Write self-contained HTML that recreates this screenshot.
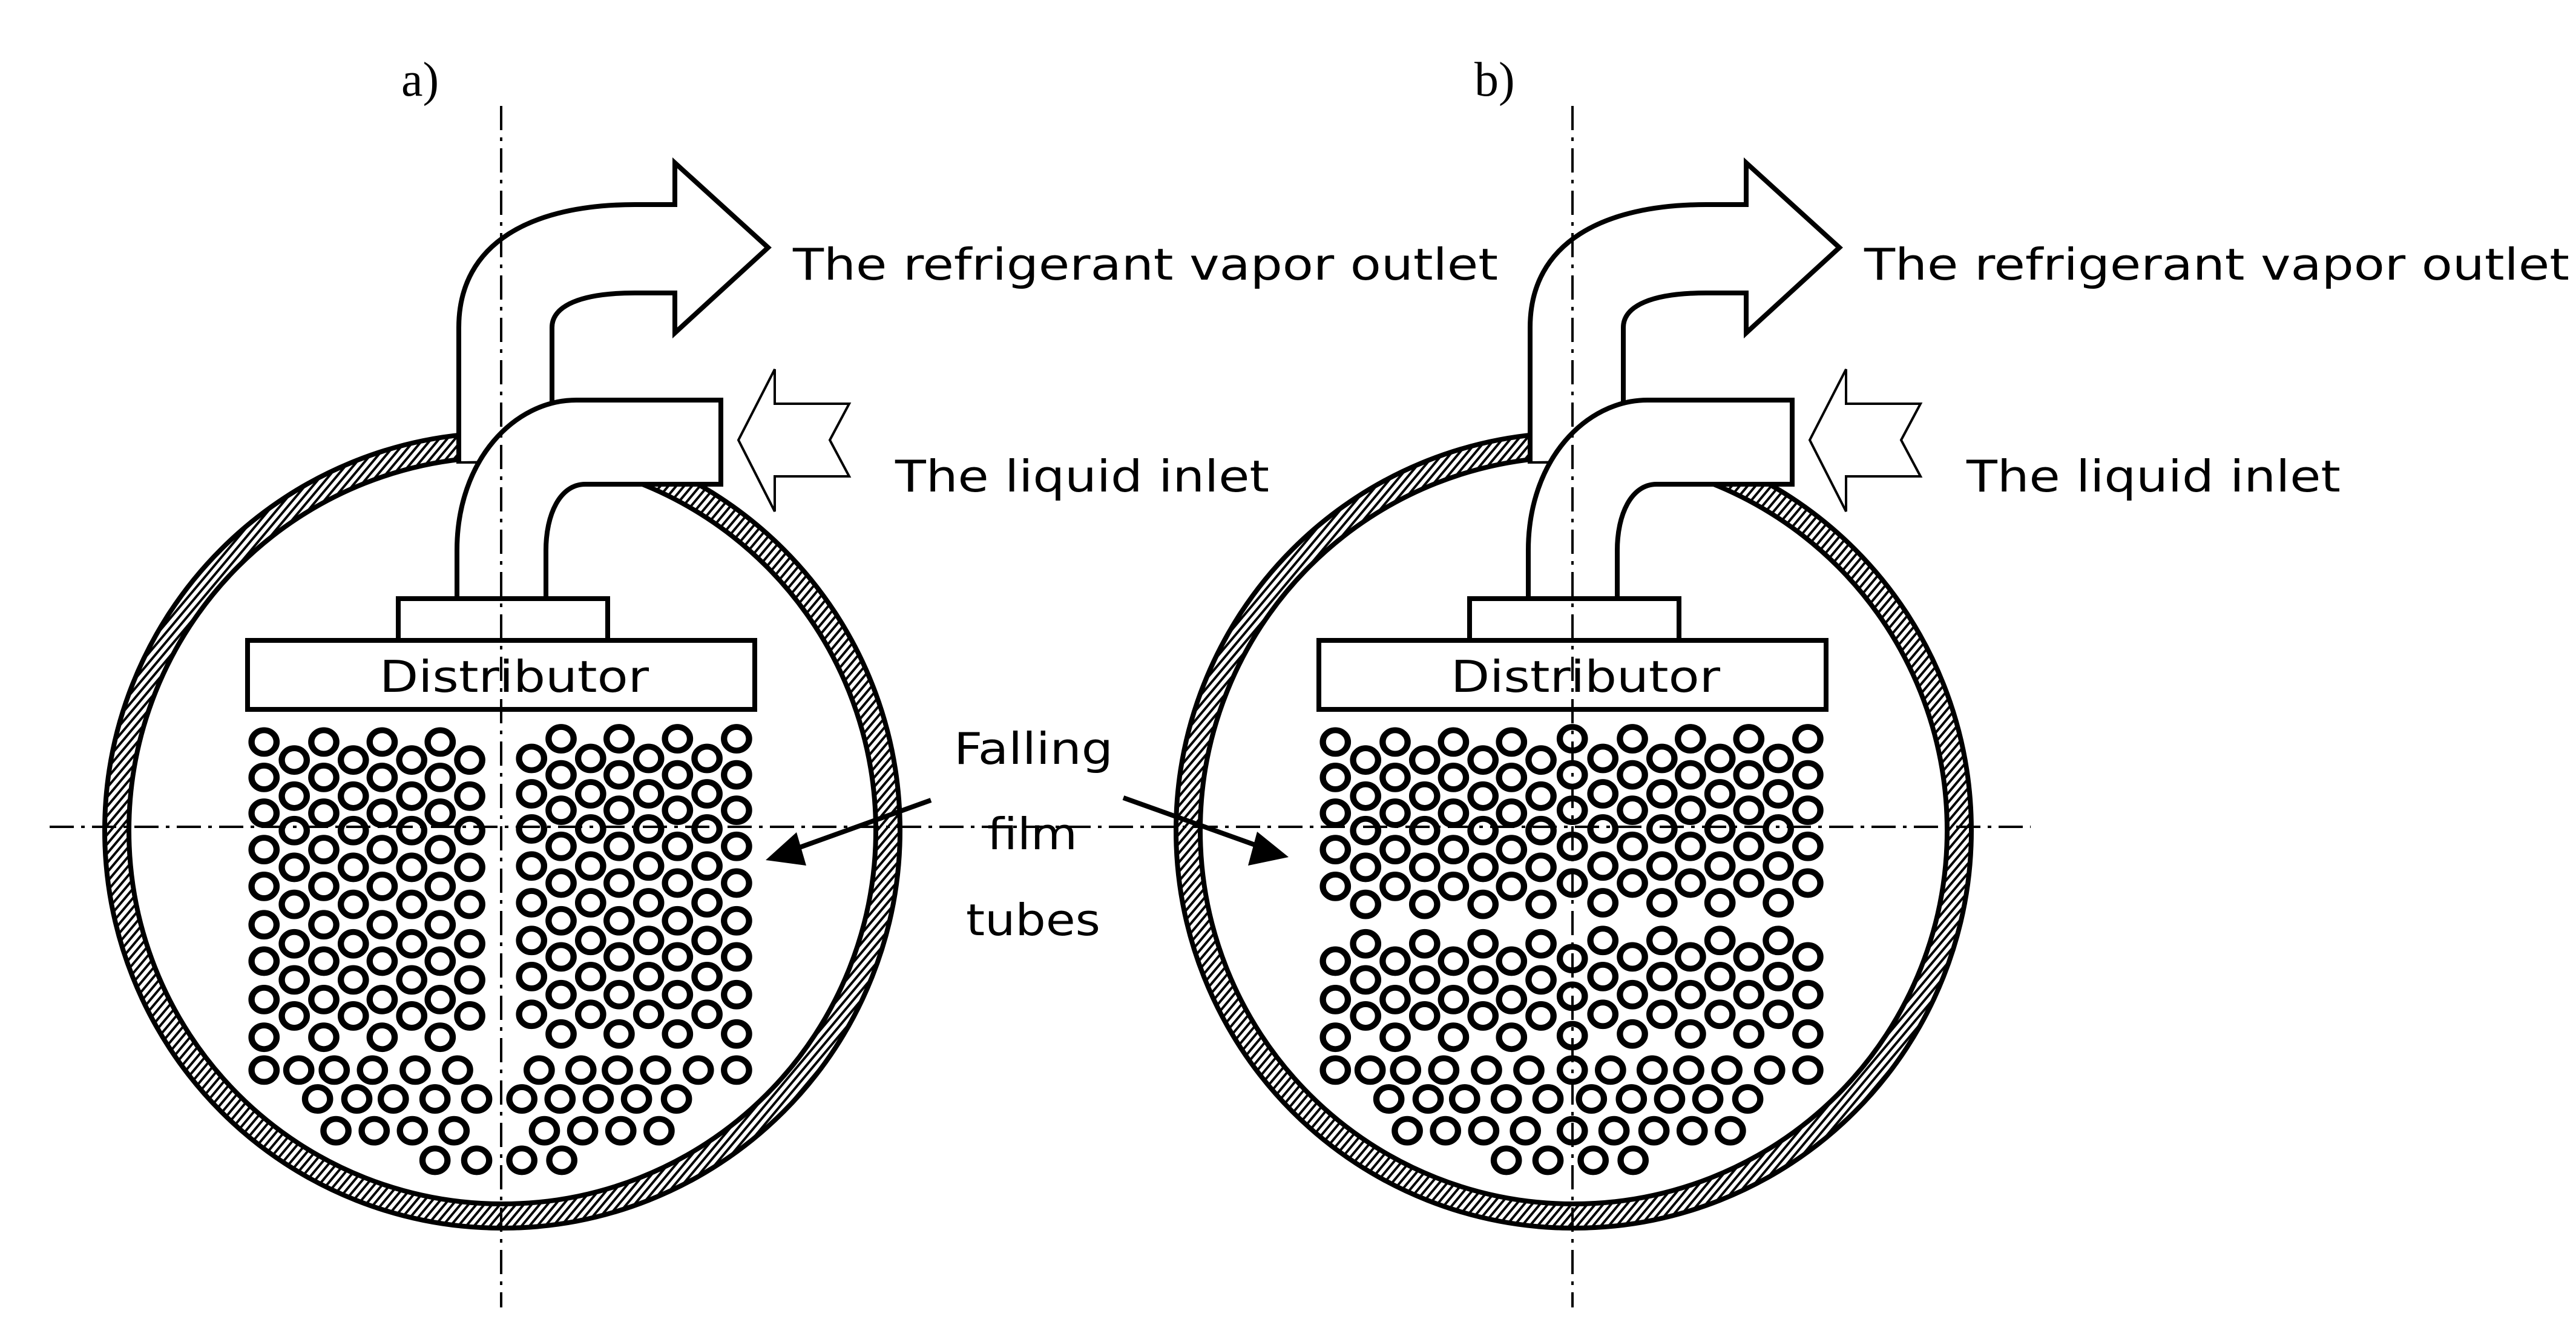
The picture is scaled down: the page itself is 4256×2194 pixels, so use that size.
<!DOCTYPE html>
<html><head><meta charset="utf-8"><style>
html,body{margin:0;padding:0;background:#fff;}
svg{display:block;}
.t{font-family:"DejaVu Sans","Liberation Sans",sans-serif;font-size:72px;fill:#000;}
.s{font-family:"Liberation Serif",serif;font-size:80px;fill:#000;}
</style></head><body>
<svg width="4256" height="2194" viewBox="0 0 4256 2194" xmlns="http://www.w3.org/2000/svg" xmlns:xlink="http://www.w3.org/1999/xlink">
<defs>
<pattern id="h" width="10" height="10" patternUnits="userSpaceOnUse" patternTransform="rotate(40)">
<rect width="10" height="10" fill="#fff"/><rect x="0" y="0" width="4" height="10" fill="#000"/></pattern>
<g id="diag">
 <circle cx="830" cy="1372" r="637" fill="#fff" stroke="url(#h)" stroke-width="40"/>
 <circle cx="830" cy="1372" r="657" fill="none" stroke="#000" stroke-width="8"/>
 <circle cx="830" cy="1372" r="617" fill="none" stroke="#000" stroke-width="8"/>
 <rect x="762" y="690" width="240" height="80" fill="#fff"/>
 <line x1="754" y1="762" x2="800" y2="762" stroke="#000" stroke-width="8"/>
 <path d="M758,762 L758,541 C758,400 880,338 1049,338 L1115,338 L1115,269 L1269,409 L1115,550 L1115,484 L1049,484 C960,484 912,505 912,541 L912,760 Z" fill="#fff"/>
 <path d="M758,762 L758,541 C758,400 880,338 1049,338 L1115,338 L1115,269 L1269,409 L1115,550 L1115,484 L1049,484 C960,484 912,505 912,541 L912,668" fill="none" stroke="#000" stroke-width="8" stroke-linejoin="miter"/>
 <path d="M755,989 L755,909 C755,760 850,661 952,661 L1191,661 L1191,800 L967,800 C925,800 902,850 902,909 L902,989 Z" fill="#fff" stroke="#000" stroke-width="8"/>
 <rect x="658" y="989" width="346" height="69" fill="#fff" stroke="#000" stroke-width="8"/>
 <rect x="409" y="1058" width="838" height="114" fill="#fff" stroke="#000" stroke-width="8"/>
 <polygon points="1220,727 1280,610 1280,667 1403,667 1371,727 1403,787 1280,787 1280,845" fill="#fff" stroke="#000" stroke-width="4"/>
 <text class="t" x="1310" y="462" textLength="1165" lengthAdjust="spacingAndGlyphs">The refrigerant vapor outlet</text>
 <text class="t" x="1479" y="812" textLength="618" lengthAdjust="spacingAndGlyphs">The liquid inlet</text>
 <text class="t" x="627" y="1143" textLength="445" lengthAdjust="spacingAndGlyphs">Distributor</text>
 <line x1="828" y1="175" x2="828" y2="2160" stroke="#000" stroke-width="4" stroke-dasharray="40 12 6 12"/>
</g>
</defs>
<use xlink:href="#diag" href="#diag"/>
<use xlink:href="#diag" href="#diag" x="1770"/>
<line x1="82" y1="1366" x2="3355" y2="1366" stroke="#000" stroke-width="4" stroke-dasharray="40 12 6 12"/>
<text class="s" x="663" y="158">a)</text>
<text class="s" x="2436" y="158">b)</text>
<text class="t" x="1576" y="1262" textLength="263" lengthAdjust="spacingAndGlyphs">Falling</text>
<text class="t" x="1631" y="1403" textLength="149" lengthAdjust="spacingAndGlyphs">film</text>
<text class="t" x="1596" y="1545" textLength="222" lengthAdjust="spacingAndGlyphs">tubes</text>
<line x1="1538" y1="1322" x2="1310" y2="1404" stroke="#000" stroke-width="8"/>
<polygon points="1265,1421 1316,1375 1332,1430" fill="#000"/>
<line x1="1856" y1="1318" x2="2085" y2="1400" stroke="#000" stroke-width="8"/>
<polygon points="2129,1416 2077,1374 2062,1430" fill="#000"/>

<g transform="translate(380,1150) scale(0.574,0.542)" fill="none" stroke="#000" stroke-width="18">
<g id="colsA">
<circle cx="98" cy="140" r="36"/><circle cx="98" cy="248" r="36"/><circle cx="98" cy="357" r="36"/><circle cx="98" cy="468" r="36"/><circle cx="98" cy="580" r="36"/><circle cx="98" cy="697" r="36"/><circle cx="98" cy="808" r="36"/><circle cx="98" cy="925" r="36"/><circle cx="98" cy="1040" r="36"/>
</g>
<use href="#colsA" xlink:href="#colsA" x="172"/><use href="#colsA" xlink:href="#colsA" x="340"/><use href="#colsA" xlink:href="#colsA" x="507"/>
<g id="colsB">
<circle cx="185" cy="195" r="36"/><circle cx="185" cy="305" r="36"/><circle cx="185" cy="410" r="36"/><circle cx="185" cy="522" r="36"/><circle cx="185" cy="635" r="36"/><circle cx="185" cy="755" r="36"/><circle cx="185" cy="865" r="36"/><circle cx="185" cy="975" r="36"/>
</g>
<use href="#colsB" xlink:href="#colsB" x="170"/><use href="#colsB" xlink:href="#colsB" x="338"/><use href="#colsB" xlink:href="#colsB" x="505"/>
<g id="colsA2">
<circle cx="953" cy="130" r="36"/><circle cx="953" cy="240" r="36"/><circle cx="953" cy="348" r="36"/><circle cx="953" cy="458" r="36"/><circle cx="953" cy="570" r="36"/><circle cx="953" cy="685" r="36"/><circle cx="953" cy="795" r="36"/><circle cx="953" cy="910" r="36"/><circle cx="953" cy="1030" r="36"/>
</g>
<use href="#colsA2" xlink:href="#colsA2" x="167"/><use href="#colsA2" xlink:href="#colsA2" x="335"/><use href="#colsA2" xlink:href="#colsA2" x="505"/>
<g id="colsB2">
<circle cx="868" cy="190" r="36"/><circle cx="868" cy="298" r="36"/><circle cx="868" cy="405" r="36"/><circle cx="868" cy="518" r="36"/><circle cx="868" cy="630" r="36"/><circle cx="868" cy="745" r="36"/><circle cx="868" cy="855" r="36"/><circle cx="868" cy="970" r="36"/>
</g>
<use href="#colsB2" xlink:href="#colsB2" x="170"/><use href="#colsB2" xlink:href="#colsB2" x="337"/><use href="#colsB2" xlink:href="#colsB2" x="505"/>
<circle cx="98" cy="1140" r="36"/><circle cx="198" cy="1140" r="36"/><circle cx="300" cy="1140" r="36"/><circle cx="410" cy="1140" r="36"/><circle cx="533" cy="1140" r="36"/><circle cx="655" cy="1140" r="36"/>
<circle cx="890" cy="1140" r="36"/><circle cx="1010" cy="1140" r="36"/><circle cx="1115" cy="1140" r="36"/><circle cx="1225" cy="1140" r="36"/><circle cx="1348" cy="1140" r="36"/><circle cx="1458" cy="1140" r="36"/>
<circle cx="252" cy="1228" r="36"/><circle cx="365" cy="1228" r="36"/><circle cx="470" cy="1228" r="36"/><circle cx="590" cy="1228" r="36"/><circle cx="710" cy="1228" r="36"/>
<circle cx="840" cy="1228" r="36"/><circle cx="950" cy="1228" r="36"/><circle cx="1060" cy="1228" r="36"/><circle cx="1170" cy="1228" r="36"/><circle cx="1285" cy="1228" r="36"/>
<circle cx="305" cy="1325" r="36"/><circle cx="415" cy="1325" r="36"/><circle cx="525" cy="1325" r="36"/><circle cx="645" cy="1325" r="36"/>
<circle cx="905" cy="1325" r="36"/><circle cx="1015" cy="1325" r="36"/><circle cx="1125" cy="1325" r="36"/><circle cx="1235" cy="1325" r="36"/>
<circle cx="590" cy="1415" r="36"/><circle cx="710" cy="1415" r="36"/><circle cx="840" cy="1415" r="36"/><circle cx="955" cy="1415" r="36"/>
</g>

<g transform="translate(2150,1150) scale(0.574,0.542)" fill="none" stroke="#000" stroke-width="18">
<g id="bA">
<circle cx="98" cy="140" r="36"/><circle cx="98" cy="248" r="36"/><circle cx="98" cy="357" r="36"/><circle cx="98" cy="468" r="36"/><circle cx="98" cy="580" r="36"/>
<circle cx="98" cy="808" r="36"/><circle cx="98" cy="925" r="36"/><circle cx="98" cy="1040" r="36"/>
</g>
<use href="#bA" xlink:href="#bA" x="172"/><use href="#bA" xlink:href="#bA" x="340"/><use href="#bA" xlink:href="#bA" x="507"/>
<g id="bB">
<circle cx="185" cy="195" r="36"/><circle cx="185" cy="305" r="36"/><circle cx="185" cy="410" r="36"/><circle cx="185" cy="522" r="36"/><circle cx="185" cy="635" r="36"/>
<circle cx="185" cy="755" r="36"/><circle cx="185" cy="865" r="36"/><circle cx="185" cy="975" r="36"/>
</g>
<use href="#bB" xlink:href="#bB" x="170"/><use href="#bB" xlink:href="#bB" x="338"/><use href="#bB" xlink:href="#bB" x="505"/>
<circle cx="780" cy="130" r="36"/><circle cx="780" cy="240" r="36"/><circle cx="780" cy="348" r="36"/><circle cx="780" cy="458" r="36"/><circle cx="780" cy="570" r="36"/>
<circle cx="780" cy="800" r="36"/><circle cx="780" cy="915" r="36"/><circle cx="780" cy="1035" r="36"/>
<g id="bA2">
<circle cx="953" cy="130" r="36"/><circle cx="953" cy="240" r="36"/><circle cx="953" cy="348" r="36"/><circle cx="953" cy="458" r="36"/><circle cx="953" cy="570" r="36"/>
<circle cx="953" cy="795" r="36"/><circle cx="953" cy="910" r="36"/><circle cx="953" cy="1030" r="36"/>
</g>
<use href="#bA2" xlink:href="#bA2" x="167"/><use href="#bA2" xlink:href="#bA2" x="335"/><use href="#bA2" xlink:href="#bA2" x="505"/>
<g id="bB2">
<circle cx="868" cy="190" r="36"/><circle cx="868" cy="298" r="36"/><circle cx="868" cy="405" r="36"/><circle cx="868" cy="518" r="36"/><circle cx="868" cy="630" r="36"/>
<circle cx="868" cy="745" r="36"/><circle cx="868" cy="855" r="36"/><circle cx="868" cy="970" r="36"/>
</g>
<use href="#bB2" xlink:href="#bB2" x="170"/><use href="#bB2" xlink:href="#bB2" x="337"/><use href="#bB2" xlink:href="#bB2" x="505"/>
<circle cx="98" cy="1140" r="36"/><circle cx="198" cy="1140" r="36"/><circle cx="300" cy="1140" r="36"/><circle cx="410" cy="1140" r="36"/><circle cx="533" cy="1140" r="36"/><circle cx="655" cy="1140" r="36"/><circle cx="780" cy="1140" r="36"/>
<circle cx="890" cy="1140" r="36"/><circle cx="1010" cy="1140" r="36"/><circle cx="1115" cy="1140" r="36"/><circle cx="1225" cy="1140" r="36"/><circle cx="1348" cy="1140" r="36"/><circle cx="1458" cy="1140" r="36"/>
<circle cx="252" cy="1228" r="36"/><circle cx="365" cy="1228" r="36"/><circle cx="470" cy="1228" r="36"/><circle cx="590" cy="1228" r="36"/><circle cx="710" cy="1228" r="36"/>
<circle cx="835" cy="1228" r="36"/><circle cx="950" cy="1228" r="36"/><circle cx="1060" cy="1228" r="36"/><circle cx="1170" cy="1228" r="36"/><circle cx="1285" cy="1228" r="36"/>
<circle cx="305" cy="1325" r="36"/><circle cx="415" cy="1325" r="36"/><circle cx="525" cy="1325" r="36"/><circle cx="645" cy="1325" r="36"/><circle cx="780" cy="1325" r="36"/>
<circle cx="900" cy="1325" r="36"/><circle cx="1015" cy="1325" r="36"/><circle cx="1125" cy="1325" r="36"/><circle cx="1235" cy="1325" r="36"/>
<circle cx="590" cy="1415" r="36"/><circle cx="710" cy="1415" r="36"/><circle cx="840" cy="1415" r="36"/><circle cx="955" cy="1415" r="36"/>
</g>
</svg>
</body></html>
